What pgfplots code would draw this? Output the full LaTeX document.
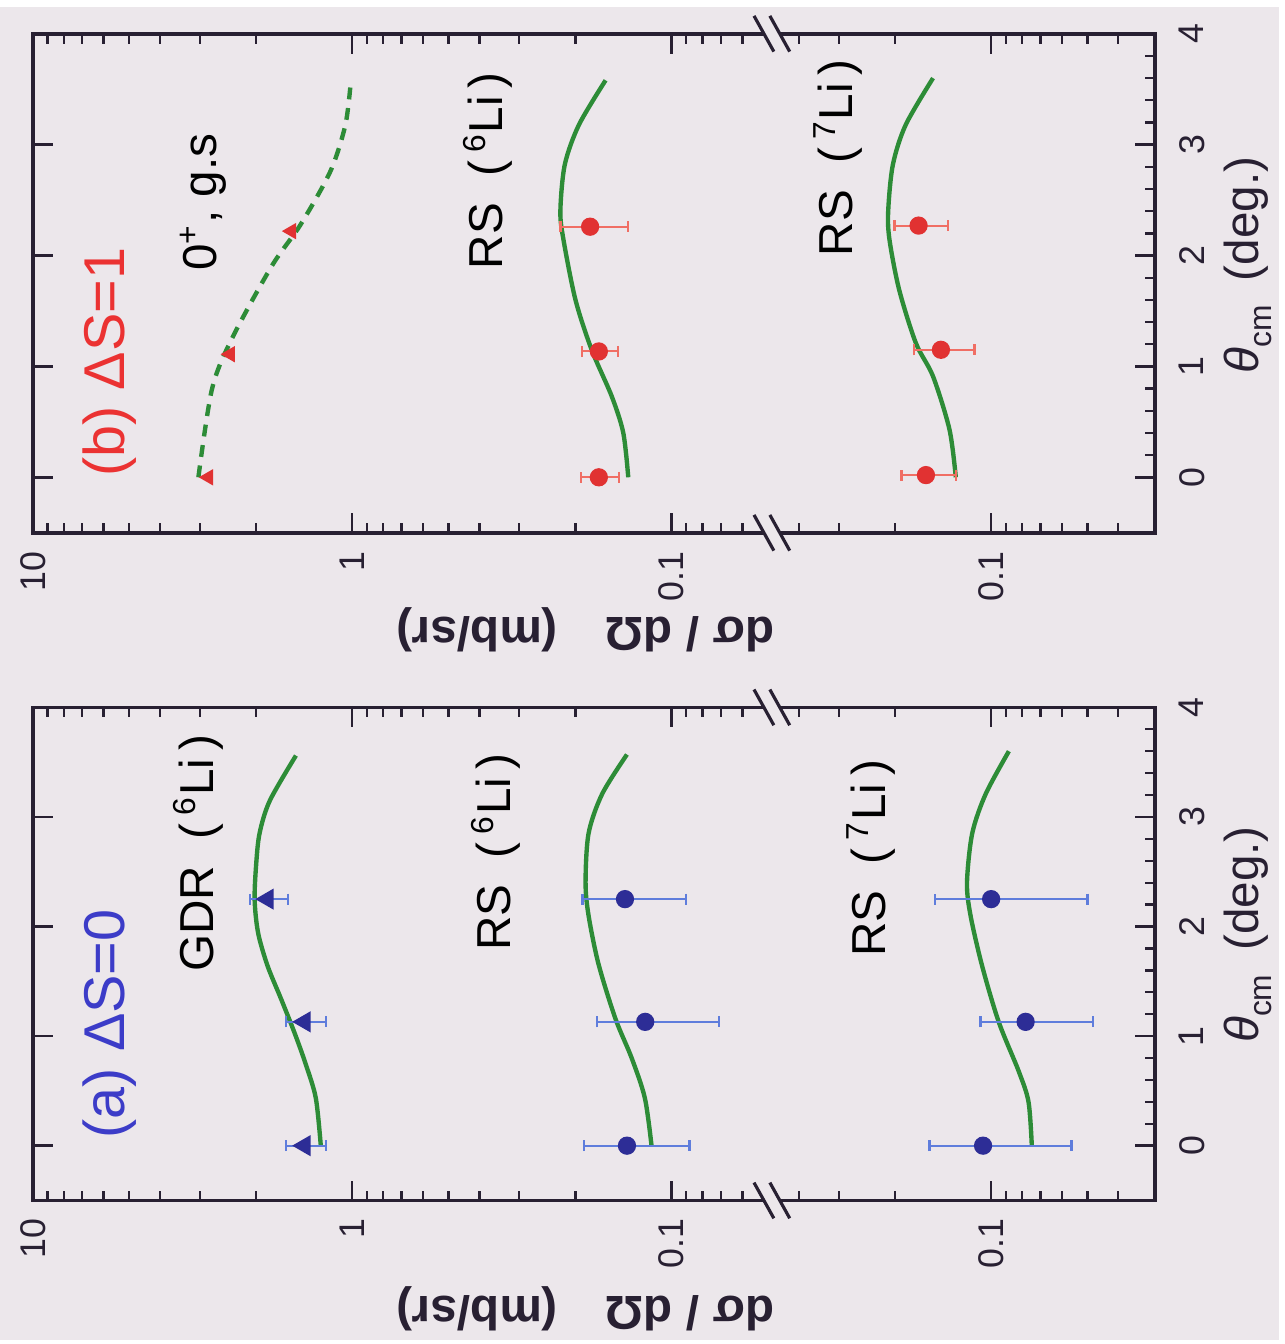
\documentclass[border=0pt]{standalone}
\usepackage{fontspec}
\setmainfont{Liberation Sans}
\usepackage{pgfplots}
\pgfplotsset{compat=1.18}
\definecolor{bgc}{RGB}{236,231,235}
\definecolor{frc}{RGB}{40,32,50}
\definecolor{cgreen}{RGB}{45,140,55}
\definecolor{bmark}{RGB}{45,45,150}
\definecolor{berr}{RGB}{95,125,220}
\definecolor{rmark}{RGB}{225,50,50}
\definecolor{rerr}{RGB}{240,110,100}
\definecolor{tblue}{RGB}{60,60,200}
\definecolor{tred}{RGB}{235,50,50}
\begin{document}
\begin{tikzpicture}
\begin{scope}[x=0.25pt,y=-0.25pt]
\fill[bgc] (0,0) rectangle (1289,1344);
\end{scope}
% ---------------- panel (a), left segment
\begin{axis}[scale only axis, xmode=log, x dir=reverse, ymin=-0.5, ymax=4,
    width=186pt, height=124.25pt, at={(101.25pt,-238.625pt)}, anchor=center,
    axis line style={draw=none}, tick align=inside,
    tick style={line width=0.6pt, color=frc},
    major tick length=5pt, minor tick length=2.5pt,
    xtick pos=both, ytick={0,1,2,3,4},
    tick label style={font=\fontsize{9}{10}\selectfont, text=frc},
    xticklabel style={rotate=90, anchor=east, inner sep=4.5pt},
    xmin=0.04891, xmax=10,
    xtick={0.1,1,10}, xticklabels={0.1,1,10},
    minor xtick={0.06,0.07,0.08,0.09,0.2,0.3,0.4,0.5,0.6,0.7,0.8,0.9,2,3,4,5,6,7,8,9},
    ytick pos=left, yticklabels={}]
\addplot[cgreen, line width=1.1pt, smooth, no marks] coordinates {(1.254,0) (1.30,0.435) (1.40,0.75) (1.52,1.04) (1.67,1.34) (1.84,1.64) (1.97,1.94) (2.02,2.24) (2.0,2.55) (1.95,2.85) (1.81,3.15) (1.50,3.56)};
\addplot[only marks, mark=triangle*, mark size=2.7pt, color=bmark, mark options={rotate=90},
  error bars/.cd, x dir=both, x explicit, error mark=|,
  error bar style={line width=0.5pt, berr},
  error mark options={berr, line width=0.6pt, mark size=1.4pt}]
  coordinates {(1.41,0) +- (0.2,0) (1.41,1.13) +- (0.2,0) (1.84,2.25) +- (0.25,0)};
\addplot[cgreen, line width=1.1pt, smooth, no marks] coordinates {(0.1156,0) (0.1213,0.435) (0.1334,0.80) (0.150,1.16) (0.1695,1.66) (0.182,2.1) (0.186,2.4) (0.182,2.85) (0.165,3.21) (0.138,3.57)};
\addplot[only marks, mark=*, mark size=2.1pt, color=bmark,
  error bars/.cd, x dir=both, x explicit, error mark=|,
  error bar style={line width=0.5pt, berr},
  error mark options={berr, line width=0.6pt, mark size=1.4pt}]
  coordinates {(0.138,0) +- (0.05,0) (0.121,1.13) +- (0.05,0) (0.140,2.25) +- (0.05,0)};
\end{axis}
% ---------------- panel (a), right segment
\begin{axis}[scale only axis, xmode=log, x dir=reverse, ymin=-0.5, ymax=4,
    width=96.75pt, height=124.25pt, at={(242.625pt,-238.625pt)}, anchor=center,
    axis line style={draw=none}, tick align=inside,
    tick style={line width=0.6pt, color=frc},
    major tick length=5pt, minor tick length=2.5pt,
    xtick pos=both, ytick={0,1,2,3,4},
    tick label style={font=\fontsize{9}{10}\selectfont, text=frc},
    xticklabel style={rotate=90, anchor=east, inner sep=4.5pt},
    yticklabel style={rotate=90, anchor=north, inner sep=6pt},
    xmin=0.03074, xmax=0.4891,
    xtick={0.01,0.1,1}, xticklabels={0.1,0.1,0.1},
    minor xtick={0.04,0.05,0.06,0.07,0.08,0.09,0.2,0.3,0.4},
    ytick pos=right, yticklabel pos=right, yticklabels={0,1,2,3,4},
    minor y tick num=4]
\addplot[cgreen, line width=1.1pt, smooth, no marks] coordinates {(0.0746,0) (0.0764,0.4) (0.082,0.68) (0.0947,1.13) (0.1067,1.64) (0.116,2.1) (0.119,2.4) (0.1146,2.85) (0.104,3.21) (0.088,3.6)};
\addplot[only marks, mark=*, mark size=2.1pt, color=bmark,
  error bars/.cd, x dir=both, x explicit, error mark=|,
  error bar style={line width=0.5pt, berr},
  error mark options={berr, line width=0.6pt, mark size=1.4pt}]
  coordinates {(0.106,0) +- (0.05,0) (0.078,1.13) +- (0.03,0) (0.100,2.25) +- (0.05,0)};
\end{axis}
% ---------------- panel (b), left segment
\begin{axis}[scale only axis, xmode=log, x dir=reverse, ymin=-0.5, ymax=4,
    width=186pt, height=125.75pt, at={(101.25pt,-69.625pt)}, anchor=center,
    axis line style={draw=none}, tick align=inside,
    tick style={line width=0.6pt, color=frc},
    major tick length=5pt, minor tick length=2.5pt,
    xtick pos=both, ytick={0,1,2,3,4},
    tick label style={font=\fontsize{9}{10}\selectfont, text=frc},
    xticklabel style={rotate=90, anchor=east, inner sep=4.5pt},
    xmin=0.04891, xmax=10,
    xtick={0.1,1,10}, xticklabels={0.1,1,10},
    minor xtick={0.06,0.07,0.08,0.09,0.2,0.3,0.4,0.5,0.6,0.7,0.8,0.9,2,3,4,5,6,7,8,9},
    ytick pos=left, yticklabels={}]
\addplot[cgreen, line width=1.1pt, smooth, no marks, dash pattern=on 3pt off 2.2pt] coordinates {(3.03,0) (2.75,0.79) (2.39,1.24) (1.79,1.90) (1.45,2.28) (1.17,2.76) (1.05,3.18) (1.01,3.57)};
\addplot[only marks, mark=triangle*, mark size=2pt, color=rmark, mark options={rotate=90}] coordinates {(2.82,0) (2.41,1.11) (1.55,2.22)};
\addplot[cgreen, line width=1.1pt, smooth, no marks] coordinates {(0.1367,0) (0.1417,0.40) (0.154,0.73) (0.178,1.15) (0.2,1.6) (0.218,2.14) (0.223,2.40) (0.216,2.82) (0.195,3.18) (0.161,3.58)};
\addplot[only marks, mark=*, mark size=2.1pt, color=rmark,
  error bars/.cd, x dir=both, x explicit, error mark=|,
  error bar style={line width=0.5pt, rerr},
  error mark options={rerr, line width=0.6pt, mark size=1.4pt}]
  coordinates {(0.169,0) +- (0.023,0) (0.169,1.135) +- (0.022,0) (0.18,2.26) +- (0.043,0)};
\end{axis}
% ---------------- panel (b), right segment
\begin{axis}[scale only axis, xmode=log, x dir=reverse, ymin=-0.5, ymax=4,
    width=96.75pt, height=125.75pt, at={(242.625pt,-69.625pt)}, anchor=center,
    axis line style={draw=none}, tick align=inside,
    tick style={line width=0.6pt, color=frc},
    major tick length=5pt, minor tick length=2.5pt,
    xtick pos=both, ytick={0,1,2,3,4},
    tick label style={font=\fontsize{9}{10}\selectfont, text=frc},
    xticklabel style={rotate=90, anchor=east, inner sep=4.5pt},
    yticklabel style={rotate=90, anchor=north, inner sep=6pt},
    xmin=0.03074, xmax=0.4891,
    xtick={0.01,0.1,1}, xticklabels={0.1,0.1,0.1},
    minor xtick={0.04,0.05,0.06,0.07,0.08,0.09,0.2,0.3,0.4},
    ytick pos=right, yticklabel pos=right, yticklabels={0,1,2,3,4},
    minor y tick num=4]
\addplot[cgreen, line width=1.1pt, smooth, no marks] coordinates {(0.129,0) (0.135,0.43) (0.152,0.91) (0.172,1.21) (0.194,1.69) (0.208,2.14) (0.21,2.4) (0.203,2.82) (0.185,3.18) (0.152,3.6)};
\addplot[only marks, mark=*, mark size=2.1pt, color=rmark,
  error bars/.cd, x dir=both, x explicit, error mark=|,
  error bar style={line width=0.5pt, rerr},
  error mark options={rerr, line width=0.6pt, mark size=1.4pt}]
  coordinates {(0.16,0.02) +- (0.031,0) (0.1436,1.15) +- (0.031,0) (0.1687,2.27) +- (0.032,0)};
\end{axis}
\begin{scope}[x=0.25pt,y=-0.25pt]
% frames
\draw[frc, line width=0.9pt] (33,706) rectangle (1164,1203);
\draw[frc, line width=0.9pt] (33,27) rectangle (1164,530);
% break marks
\foreach \yy in {27,530,706,1203}{
  \fill[bgc] (766.7,\yy-6) -- (782.7,\yy-6) -- (789.3,\yy+6) -- (773.3,\yy+6) -- cycle;
  \draw[frc, line width=0.8pt] (760,\yy-18) -- (780,\yy+18);
  \draw[frc, line width=0.8pt] (776,\yy-18) -- (796,\yy+18);
}
% texts panel (a)
\node[rotate=90, text=tblue, font=\fontsize{14.5}{16}\selectfont] at (110,1025) {(a) ΔS=0};
\node[rotate=90, font=\fontsize{12}{14}\selectfont] at (200,853) {GDR\ \ (\,\textsuperscript{6}Li\,)};
\node[rotate=90, font=\fontsize{12}{14}\selectfont] at (500,852) {RS\ \ (\,\textsuperscript{6}Li\,)};
\node[rotate=90, font=\fontsize{12}{14}\selectfont] at (878,858) {RS\ \ (\,\textsuperscript{7}Li\,)};
% texts panel (b)
\node[rotate=90, text=tred, font=\fontsize{14.5}{16}\selectfont] at (110,358) {(b) ΔS=1};
\node[rotate=90, font=\fontsize{12}{14}\selectfont] at (205,197) {0\textsuperscript{+}, g.s};
\node[rotate=90, font=\fontsize{12}{14}\selectfont] at (492,165) {RS\ \ (\,\textsuperscript{6}Li\,)};
\node[rotate=90, font=\fontsize{12}{14}\selectfont] at (845,152) {RS\ \ (\,\textsuperscript{7}Li\,)};
% axis labels
\node[rotate=180, font=\bfseries\fontsize{12}{14}\selectfont, text=frc] at (590,1312) {dσ / dΩ\quad(mb/sr)};
\node[rotate=180, font=\bfseries\fontsize{12}{14}\selectfont, text=frc] at (590,628) {dσ / dΩ\quad(mb/sr)};
\node[rotate=90, font=\fontsize{12}{14}\selectfont, text=frc] at (1258,935) {{\itshape θ}\raisebox{-0.5ex}{\fontsize{8}{9}\selectfont cm}\enspace(deg.)};
\node[rotate=90, font=\fontsize{12}{14}\selectfont, text=frc] at (1258,260) {{\itshape θ}\raisebox{-0.5ex}{\fontsize{8}{9}\selectfont cm}\enspace(deg.)};
\end{scope}
\end{tikzpicture}
\end{document}
